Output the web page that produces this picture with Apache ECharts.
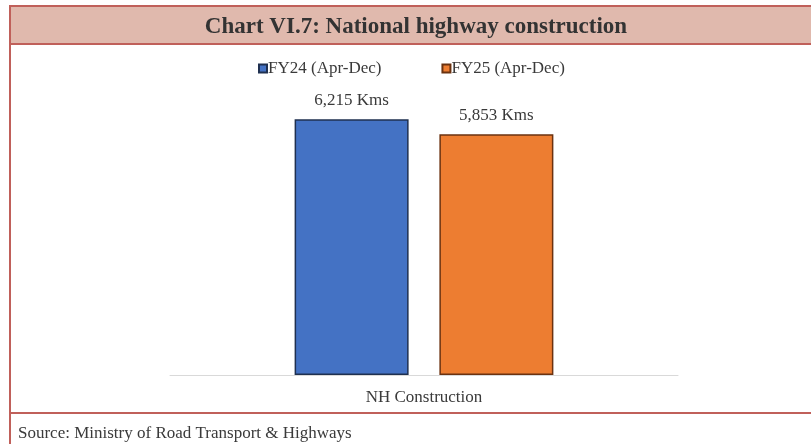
<!DOCTYPE html>
<html>
<head>
<meta charset="utf-8">
<script src="https://cdn.jsdelivr.net/npm/echarts@6/dist/echarts.min.js"></script>
<style>
html,body{margin:0;padding:0;background:#fff;}
#c{width:811px;height:444px;}
</style>
</head>
<body>
<div id="c"></div>
<script>
var categories = ['NH Construction'];
var seriesNames = ['FY24 (Apr-Dec)', 'FY25 (Apr-Dec)'];
var fy24Values = [6215];
var fy25Values = [5853];
var titleText = 'Chart VI.7: National highway construction';
var sourceText = 'Source: Ministry of Road Transport & Highways';

var serif = '"Liberation Serif", "DejaVu Serif", serif';
var chart = echarts.init(document.getElementById('c'), null, {renderer: 'canvas'});

function fmt(v) { return v.toLocaleString('en-US') + ' Kms'; }

chart.setOption({
  animation: false,
  backgroundColor: '#ffffff',
  graphic: [
    {type: 'rect', shape: {x: 10, y: 6, width: 811, height: 38}, style: {fill: '#e0b9ad'}, z: 0},
    {type: 'line', shape: {x1: 10, y1: 6, x2: 811, y2: 6}, style: {stroke: '#c0605a', lineWidth: 2}, z: 1},
    {type: 'line', shape: {x1: 10, y1: 44, x2: 811, y2: 44}, style: {stroke: '#c0605a', lineWidth: 2}, z: 1},
    {type: 'line', shape: {x1: 10, y1: 413, x2: 811, y2: 413}, style: {stroke: '#c0605a', lineWidth: 2}, z: 1},
    {type: 'line', shape: {x1: 10, y1: 5, x2: 10, y2: 444}, style: {stroke: '#c0605a', lineWidth: 2}, z: 1},
    {type: 'text', left: 18, top: 425, style: {text: sourceText, font: '17px ' + serif, fill: '#3a3a3a'}, z: 2}
  ],
  title: {
    text: titleText,
    left: 411, top: 11, textAlign: 'center',
    textStyle: {fontFamily: serif, fontWeight: 'bold', fontSize: 23, color: '#333333'}
  },
  legend: {
    data: seriesNames,
    top: 55, left: 253,
    icon: 'rect', itemWidth: 8, itemHeight: 8, itemGap: 60,
    textStyle: {fontFamily: serif, fontSize: 17, color: '#3a3a3a', padding: [0, 0, 0, -4]}
  },
  grid: {left: 170, right: 133, top: 87, bottom: 69},
  xAxis: {
    type: 'category', data: categories,
    axisLine: {lineStyle: {color: '#d9d9d9', width: 1}},
    axisTick: {show: false},
    axisLabel: {fontFamily: serif, fontSize: 17, color: '#3a3a3a', margin: 14}
  },
  yAxis: {
    type: 'value', min: 0, max: 7000,
    show: false, splitLine: {show: false}
  },
  series: [
    {
      name: seriesNames[0], type: 'bar', data: fy24Values,
      barWidth: 114, barGap: '27%',
      itemStyle: {color: '#4472c4', borderColor: '#1f3050', borderWidth: 1.5},
      label: {show: true, position: 'top', distance: 10, formatter: function(p){return fmt(p.value);},
              fontFamily: serif, fontSize: 17, color: '#3a3a3a'}
    },
    {
      name: seriesNames[1], type: 'bar', data: fy25Values,
      barWidth: 114,
      itemStyle: {color: '#ed7d31', borderColor: '#6b3210', borderWidth: 1.5},
      label: {show: true, position: 'top', distance: 10, formatter: function(p){return fmt(p.value);},
              fontFamily: serif, fontSize: 17, color: '#3a3a3a'}
    }
  ]
});
</script>
</body>
</html>
